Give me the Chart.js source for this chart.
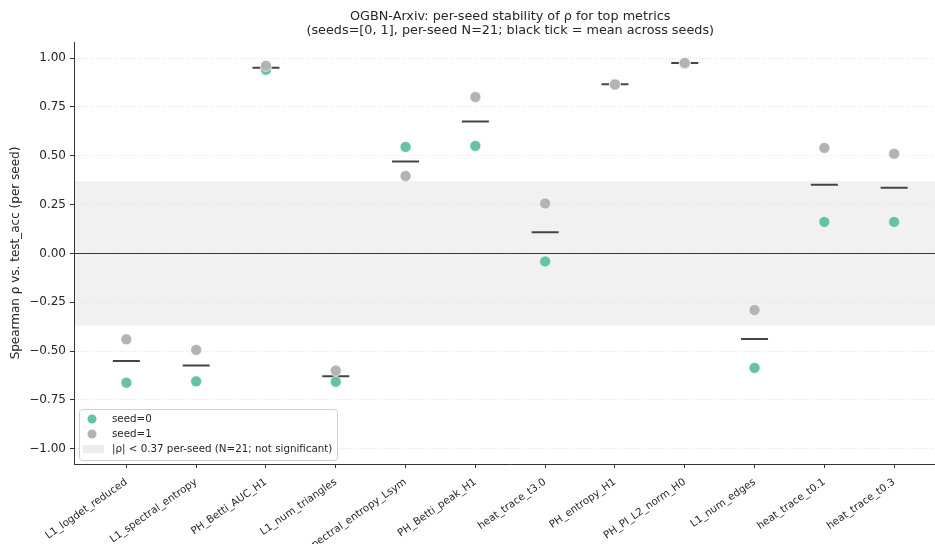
<!DOCTYPE html>
<html>
<head>
<meta charset="utf-8">
<script src="https://cdn.jsdelivr.net/npm/chart.js@4.4.1/dist/chart.umd.min.js"></script>
<style>
  html, body { margin: 0; padding: 0; background: #fff; overflow: hidden; }
  canvas { display: block; }
</style>
</head>
<body>
<canvas id="chart" width="962" height="544"></canvas>
<script>
// metrics along the x axis
var metrics = ["L1_logdet_reduced", "L1_spectral_entropy", "PH_Betti_AUC_H1", "L1_num_triangles",
  "spectral_entropy_Lsym", "PH_Betti_peak_H1", "heat_trace_t3.0", "PH_entropy_H1",
  "PH_PI_L2_norm_H0", "L1_num_edges", "heat_trace_t0.1", "heat_trace_t0.3"];
// per-seed spearman rho
var seed0 = [-0.662, -0.655, 0.94, -0.657, 0.545, 0.55, -0.041, 0.867, 0.972, -0.586, 0.161, 0.161];
var seed1 = [-0.44, -0.494, 0.96, -0.60, 0.396, 0.80, 0.256, 0.864, 0.975, -0.29, 0.54, 0.51];
var seedMean = [-0.551, -0.574, 0.95, -0.629, 0.47, 0.675, 0.108, 0.866, 0.974, -0.438, 0.351, 0.336];
var yTicks = [-1, -0.75, -0.5, -0.25, 0, 0.25, 0.5, 0.75, 1];
var sigLevel = 0.37;
var titleLines = ["OGBN-Arxiv: per-seed stability of \u03c1 for top metrics",
  "(seeds=[0, 1], per-seed N=21; black tick = mean across seeds)"];

var font = "'DejaVu Sans', sans-serif";
var ink = "#262626";

function pts(vals) {
  return vals.map(function (v, i) { return {x: i, y: v}; });
}

var bandPlugin = {
  id: "band",
  beforeDraw: function (chart) {
    var a = chart.chartArea, y = chart.scales.y, c = chart.ctx;
    var top = y.getPixelForValue(sigLevel), bot = y.getPixelForValue(-sigLevel);
    c.save();
    c.fillStyle = "#f1f1f1";
    c.fillRect(a.left, top, a.right - a.left, bot - top);
    c.restore();
  },
  beforeDatasetsDraw: function (chart) {
    var a = chart.chartArea, c = chart.ctx;
    var y0 = Math.round(chart.scales.y.getPixelForValue(0)) + 0.5;
    c.save();
    c.strokeStyle = "#222";
    c.lineWidth = 0.9;
    c.beginPath();
    c.moveTo(a.left, y0);
    c.lineTo(a.right, y0);
    c.stroke();
    c.restore();
  }
};

// title centred over the axes, like matplotlib does
var titlePlugin = {
  id: "axTitle",
  afterDraw: function (chart) {
    var a = chart.chartArea, c = chart.ctx;
    var cx = (a.left + a.right) / 2;
    c.save();
    c.font = "12.8px " + font;
    c.fillStyle = ink;
    c.textAlign = "center";
    c.textBaseline = "middle";
    titleLines.forEach(function (t, i) { c.fillText(t, cx, 17 + i * 14); });
    c.restore();
  }
};

var legendPlugin = {
  id: "boxLegend",
  afterDraw: function (chart) {
    var c = chart.ctx;
    var x = 79, y = 409, w = 258, h = 51;
    c.save();
    c.fillStyle = "rgba(255,255,255,0.85)";
    c.strokeStyle = "#d0d0d0";
    c.lineWidth = 1;
    c.beginPath();
    c.roundRect(x + 0.5, y + 0.5, w, h, 3);
    c.fill();
    c.stroke();
    var items = [
      {label: "seed=0", color: "#66c2a5", kind: "dot"},
      {label: "seed=1", color: "#b3b3b3", kind: "dot"},
      {label: "|\u03c1| < 0.37 per-seed (N=21; not significant)", color: "#ececec", kind: "box"}
    ];
    c.font = "10.3px " + font;
    c.textBaseline = "middle";
    items.forEach(function (it, i) {
      var cy = y + 10 + i * 15;
      if (it.kind === "dot") {
        c.fillStyle = it.color;
        c.beginPath();
        c.arc(92, cy, 4.5, 0, Math.PI * 2);
        c.fill();
      } else {
        c.fillStyle = it.color;
        c.fillRect(83, cy - 4, 21, 8);
      }
      c.fillStyle = ink;
      c.fillText(it.label, 112, cy);
    });
    c.restore();
  }
};

new Chart(document.getElementById("chart"), {
  type: "scatter",
  data: {
    datasets: [{
      label: "seed=1",
      data: pts(seed1),
      backgroundColor: "#b3b3b3",
      borderColor: "#ffffff",
      borderWidth: 0.6,
      pointRadius: 5.5,
      order: 0
    }, {
      label: "seed=0",
      data: pts(seed0),
      backgroundColor: "#66c2a5",
      borderColor: "#ffffff",
      borderWidth: 0.6,
      pointRadius: 5.5,
      order: 1
    }, {
      label: "mean",
      data: pts(seedMean),
      pointStyle: "line",
      borderColor: "#444444",
      borderWidth: 2,
      pointRadius: 13.5,
      order: 2
    }]
  },
  options: {
    responsive: false,
    animation: false,
    layout: { padding: { left: 0, right: 7, top: 42, bottom: 0 } },
    plugins: {
      legend: { display: false },
      tooltip: { enabled: false },
      title: { display: false }
    },
    scales: {
      x: {
        type: "linear",
        min: -0.75,
        max: 11.75,
        afterBuildTicks: function (s) {
          s.ticks = metrics.map(function (m, i) { return {value: i}; });
        },
        afterFit: function (s) { s.height = 80; },
        grid: { display: true, drawOnChartArea: false, drawTicks: true, tickLength: 4, tickColor: "#333", tickWidth: 1 },
        border: { display: true, color: "#333", width: 1 },
        ticks: {
          autoSkip: false,
          maxRotation: 35,
          minRotation: 35,
          padding: 8,
          color: ink,
          font: { family: font, size: 10.3 },
          callback: function (v) { return metrics[v]; }
        }
      },
      y: {
        min: -1.078,
        max: 1.082,
        afterBuildTicks: function (s) {
          s.ticks = yTicks.map(function (v) { return {value: v}; });
        },
        afterFit: function (s) { s.width = 74; },
        grid: { color: "#dcdcdc", lineWidth: 0.8, tickLength: 4, tickColor: "#333", tickWidth: 1 },
        border: { display: true, color: "#333", width: 1, dash: [1, 2] },
        title: {
          display: true,
          text: "Spearman \u03c1 vs. test_acc (per seed)",
          color: ink,
          font: { family: font, size: 12 },
          padding: { top: 9, bottom: 2 }
        },
        ticks: {
          color: ink,
          padding: 4,
          font: { family: font, size: 12 },
          callback: function (v) { return v.toFixed(2).replace("-", "\u2212"); }
        }
      }
    }
  },
  plugins: [bandPlugin, titlePlugin, legendPlugin]
});
</script>
</body>
</html>
